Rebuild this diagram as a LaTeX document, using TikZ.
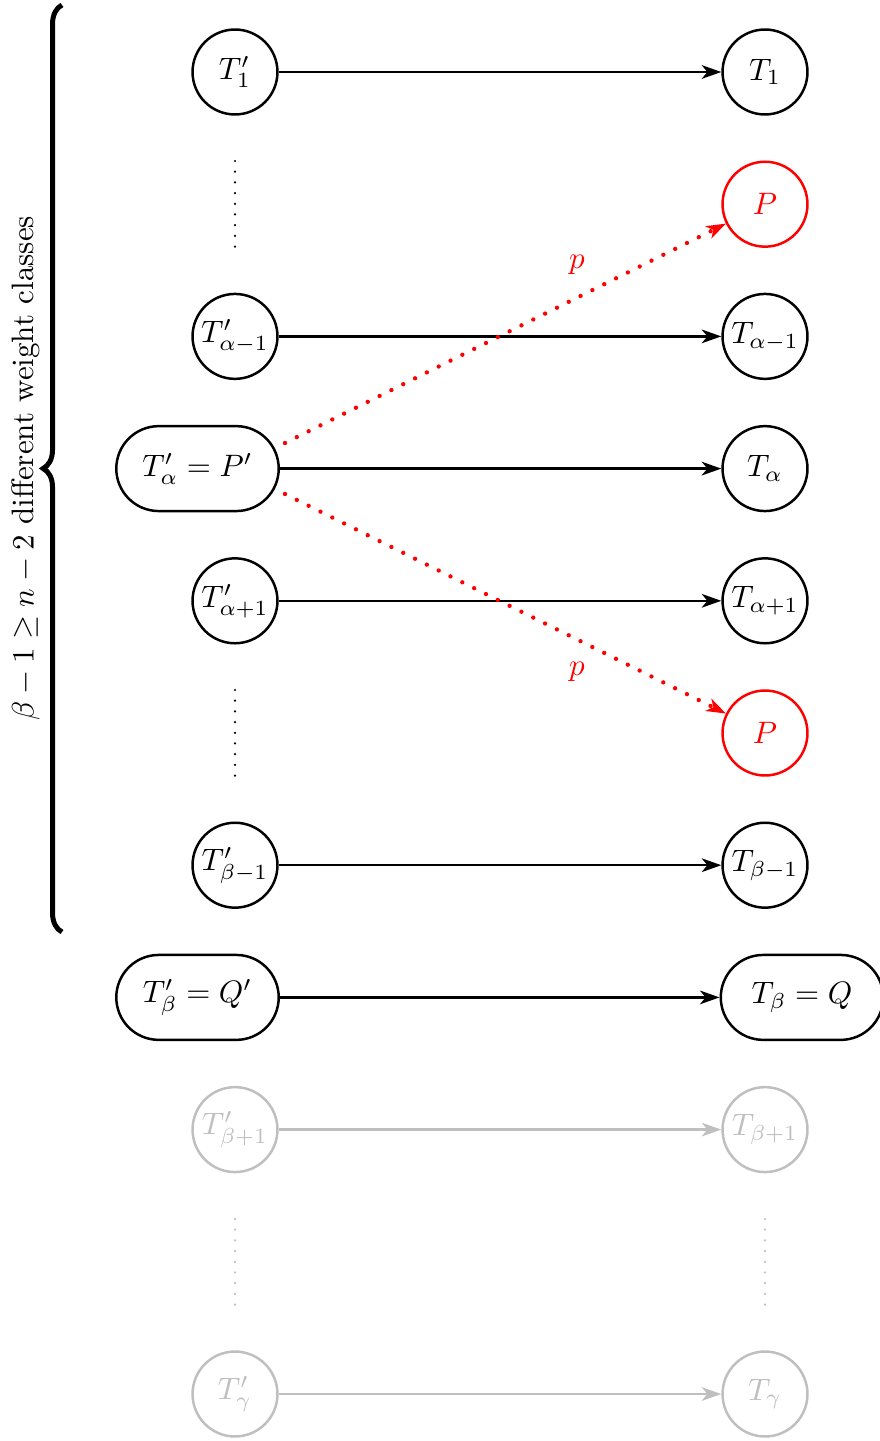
\documentclass[tikz,border=0pt]{standalone}
\usetikzlibrary{arrows.meta,decorations.pathreplacing}
\begin{document}
\begin{tikzpicture}[x=0.3226pt,y=-0.3226pt,
  circ/.style={circle,draw,thick,minimum size=27.4pt,inner sep=0pt},
  pill/.style={rectangle,draw,thick,rounded corners=13.7pt,minimum width=52.4pt,minimum height=27.4pt,inner sep=0pt},
  conn/.style={thick,-{Stealth[length=6.3pt,width=4.4pt,inset=1.8pt]}},
  faded/.style={draw=black!25,text=black!25},
  fadedline/.style={draw=black!25},
  redcirc/.style={circ,draw=red,text=red},
  vdotsline/.style={line width=0.8pt,line cap=round,dash pattern=on 0pt off 3.45pt},
  redarrow/.style={red,line width=1.4pt,line cap=round,dash pattern=on 0pt off 4.26pt,-{Stealth[length=6.3pt,width=4.4pt,inset=1.8pt,line width=0.8pt]}},
]
\useasboundingbox (0,0) rectangle (879,1441);

% left column
\node[circ] (L0) at (235,72) {$T'_1$};
\node[circ] (L2) at (235,336.4) {$T'_{\alpha-1}$};
\node[pill] (L3) at (197.5,468.6) {$T'_\alpha = P'$};
\node[circ] (L4) at (235,600.8) {$T'_{\alpha+1}$};
\node[circ] (L6) at (235,865.2) {$T'_{\beta-1}$};
\node[pill] (L7) at (197.5,997.4) {$T'_\beta = Q'$};
\node[circ,faded] (L8) at (235,1129.6) {$T'_{\beta+1}$};
\node[circ,faded] (L10) at (235,1394) {$T'_\gamma$};

% right column
\node[circ] (R0) at (765,72) {$T_1$};
\node[redcirc] (R1) at (765,204.2) {$P$};
\node[circ] (R2) at (765,336.4) {$T_{\alpha-1}$};
\node[circ] (R3) at (765,468.6) {$T_\alpha$};
\node[circ] (R4) at (765,600.8) {$T_{\alpha+1}$};
\node[redcirc] (R5) at (765,733) {$P$};
\node[circ] (R6) at (765,865.2) {$T_{\beta-1}$};
\node[pill] (R7) at (802,997.4) {$T_\beta = Q$};
\node[circ,faded] (R8) at (765,1129.6) {$T_{\beta+1}$};
\node[circ,faded] (R10) at (765,1394) {$T_\gamma$};

% horizontal arrows
\draw[conn] (L0) -- (R0);
\draw[conn] (L2) -- (R2);
\draw[conn] (L3) -- (R3);
\draw[conn] (L4) -- (R4);
\draw[conn] (L6) -- (R6);
\draw[conn] (L7) -- (R7);
\draw[conn,fadedline] (L8) -- (R8);
\draw[conn,fadedline] (L10) -- (R10);

% vertical dots
\coordinate (d1t) at (235,161);
\coordinate (d1b) at (235,247.2);
\coordinate (d5t) at (235,690);
\coordinate (d5b) at (235,776.2);
\coordinate (d9lt) at (235,1219);
\coordinate (d9lb) at (235,1305.2);
\coordinate (d9rt) at (765,1219);
\coordinate (d9rb) at (765,1305.2);
\draw[vdotsline] (d1t) -- (d1b);
\draw[vdotsline] (d5t) -- (d5b);
\draw[vdotsline,fadedline] (d9lt) -- (d9lb);
\draw[vdotsline,fadedline] (d9rt) -- (d9rb);

% red dotted arrows
\coordinate (pa) at (285,443);
\coordinate (pb) at (285,494);
\draw[redarrow] (pa) -- (R1);
\draw[redarrow] (pb) -- (R5);
\node[red] (p1) at (577,265) {$p$};
\node[red] (p2) at (577,672) {$p$};

% brace
\coordinate (brB) at (62,932);
\coordinate (brT) at (62,5);
\draw[ultra thick,decorate,decoration={brace,amplitude=6.1pt}] (brB) -- (brT);
\node[rotate=90] (lbl) at (26,468.5) {$\beta-1\geq n-2$ different weight classes};
\end{tikzpicture}
\end{document}
